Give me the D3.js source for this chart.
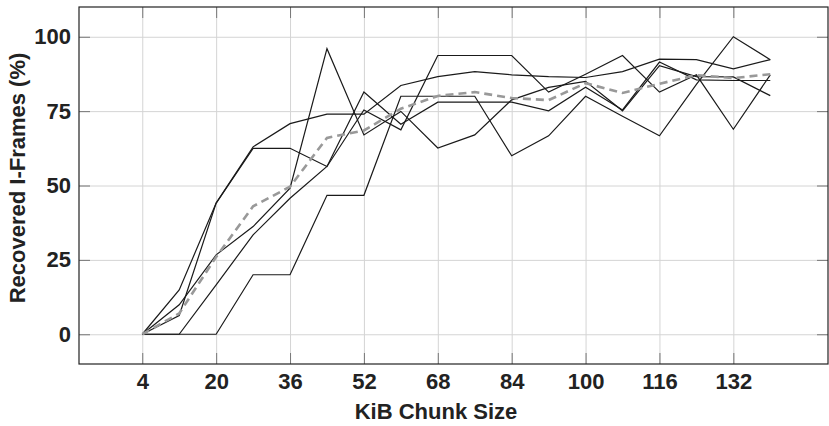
<!DOCTYPE html>
<html>
<head>
  <meta charset="utf-8">
  <title>Recovered I-Frames by Chunk Size</title>
  <style>
    body { margin: 0; background: white; }
    svg text { font-family: "Liberation Sans", Arial, sans-serif; font-weight: bold; fill: #222; }
  </style>
  <script src="https://d3js.org/d3.v7.min.js"></script>
</head>
<body>
  <div id="chart"></div>
  <script>
    // chunk sizes (KiB)
    const chunkSizes = [4, 12, 20, 28, 36, 44, 52, 60, 68, 76, 84, 92, 100, 108, 116, 124, 132, 140];

    // individual runs (% recovered)
    const run1 = [0, 14.9, 44.1, 62.5, 62.5, 56.4, 81.4, 70.6, 78, 78, 78, 75.1, 83, 75.4, 91.5, 85.5, 85.3, 85.3];
    const run2 = [0, 6.3, 44.1, 63, 70.8, 74, 74, 83.6, 86.6, 88.3, 87.2, 86.6, 86.3, 88.3, 92.5, 92.3, 89.2, 92.3];
    const run3 = [0, 9.9, 26.7, 36.2, 49.1, 96, 67, 74.9, 62.6, 67, 78.8, 83, 85, 75.1, 90.3, 86.6, 86.5, 80.2];
    const run4 = [0, 0, 16.6, 33.4, 45.7, 56.4, 75.4, 68.7, 93.7, 93.7, 93.7, 81.4, 87.4, 93.7, 81.4, 87.2, 68.9, 87.2];
    const run5 = [0, 0, 0, 20, 20, 46.7, 46.7, 80, 80, 80, 60, 66.7, 80, 73.3, 66.7, 84, 100, 92.3];

    // average (gray dashed)
    const average = [0, 7, 26, 43, 49.6, 66, 68.5, 75.8, 80.1, 81.4, 79.4, 78.7, 84.4, 81.1, 84.2, 87.1, 86.1, 87.4];

    const xTicks = [4, 20, 36, 52, 68, 84, 100, 116, 132];
    const yTicks = [0, 25, 50, 75, 100];

    const W = 829, H = 426;
    const box = {left: 79, right: 828, top: 7, bottom: 364};
    const fontSize = 22;

    const svg = d3.select("#chart").append("svg")
      .attr("width", W)
      .attr("height", H);

    const x = d3.scaleLinear().domain([-9.7, 152.5]).range([box.left, box.right]);
    const y = d3.scaleLinear().domain([-10, 110]).range([box.bottom, box.top]);

    // gridlines
    svg.append("g")
      .attr("transform", `translate(0,${box.bottom})`)
      .call(d3.axisBottom(x).tickValues(xTicks).tickSize(-(box.bottom - box.top)).tickFormat(""))
      .call(g => g.select(".domain").remove())
      .selectAll("line").attr("stroke", "#d4d4d4");

    svg.append("g")
      .attr("transform", `translate(${box.left},0)`)
      .call(d3.axisLeft(y).tickValues(yTicks).tickSize(-(box.right - box.left)).tickFormat(""))
      .call(g => g.select(".domain").remove())
      .selectAll("line").attr("stroke", "#d4d4d4");

    // inner tick marks on all four sides (labels only bottom / left)
    const tickLen = 11;
    svg.append("g")
      .attr("transform", `translate(0,${box.bottom})`)
      .call(d3.axisBottom(x).tickValues(xTicks).tickSize(-tickLen).tickPadding(9).tickFormat(d3.format("d")))
      .call(g => g.select(".domain").remove())
      .call(g => g.selectAll("line").attr("stroke", "#777"))
      .call(g => g.selectAll("text").attr("font-size", fontSize).style("font-family", null));

    svg.append("g")
      .attr("transform", `translate(0,${box.top})`)
      .call(d3.axisTop(x).tickValues(xTicks).tickSize(-tickLen).tickFormat(""))
      .call(g => g.select(".domain").remove())
      .selectAll("line").attr("stroke", "#777");

    svg.append("g")
      .attr("transform", `translate(${box.left},0)`)
      .call(d3.axisLeft(y).tickValues(yTicks).tickSize(-tickLen).tickPadding(8).tickFormat(d3.format("d")))
      .call(g => g.select(".domain").remove())
      .call(g => g.selectAll("line").attr("stroke", "#777"))
      .call(g => g.selectAll("text").attr("font-size", fontSize).style("font-family", null));

    svg.append("g")
      .attr("transform", `translate(${box.right},0)`)
      .call(d3.axisRight(y).tickValues(yTicks).tickSize(-tickLen).tickFormat(""))
      .call(g => g.select(".domain").remove())
      .selectAll("line").attr("stroke", "#777");

    // box
    svg.append("rect")
      .attr("x", box.left).attr("y", box.top)
      .attr("width", box.right - box.left).attr("height", box.bottom - box.top)
      .attr("fill", "none")
      .attr("stroke", "#222")
      .attr("stroke-width", 1.2);

    const line = d3.line()
      .x((d, i) => x(chunkSizes[i]))
      .y(d => y(d));

    [run1, run2, run3, run4, run5].forEach(run => {
      svg.append("path")
        .datum(run)
        .attr("fill", "none")
        .attr("stroke", "#1a1a1a")
        .attr("stroke-width", 1.2)
        .attr("d", line);
    });

    svg.append("path")
      .datum(average)
      .attr("fill", "none")
      .attr("stroke", "#999")
      .attr("stroke-width", 2.6)
      .attr("stroke-dasharray", "8,5")
      .attr("d", line);

    // axis titles
    svg.append("text")
      .attr("x", 436)
      .attr("y", 419)
      .attr("text-anchor", "middle")
      .attr("font-size", fontSize)
      .text("KiB Chunk Size");

    svg.append("text")
      .attr("transform", `translate(25,178) rotate(-90)`)
      .attr("text-anchor", "middle")
      .attr("font-size", fontSize)
      .text("Recovered I-Frames (%)");
  </script>
</body>
</html>
